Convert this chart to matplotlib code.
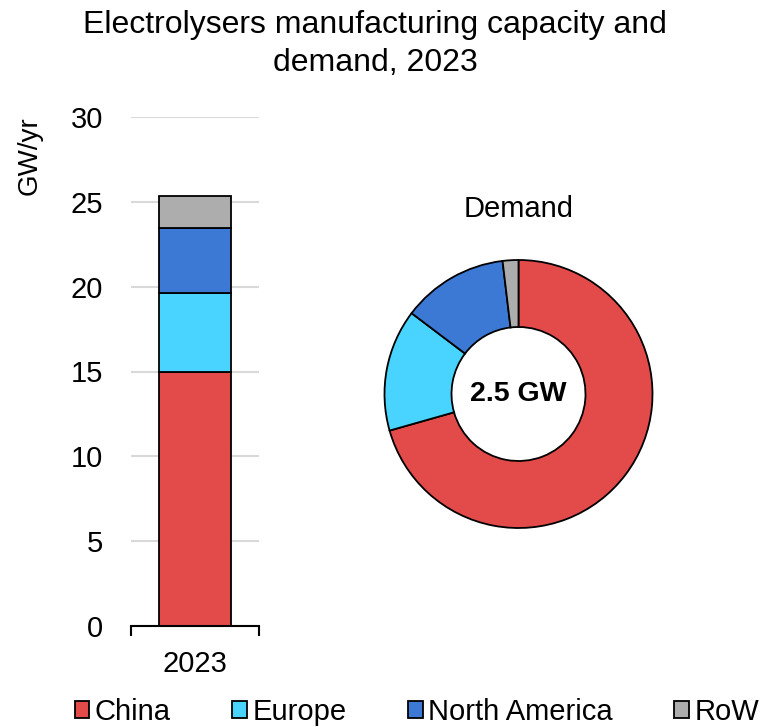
import matplotlib
matplotlib.use("Agg")
import matplotlib.pyplot as plt
from matplotlib.patches import Patch

plt.rcParams['font.family'] = ['Liberation Sans', 'DejaVu Sans']

# Manufacturing capacity, 2023 (GW/yr)
regions = ["China", "Europe", "North America", "RoW"]
capacity = [14.95, 4.7, 3.8, 1.9]
# Demand split, 2023 (share of total, %)
demand_share = [70.6, 14.7, 12.8, 1.9]
demand_total = "2.5 GW"
year_label = "2023"
y_ticks = [0, 5, 10, 15, 20, 25, 30]

colors = ["#E34B4B", "#48D4FF", "#3C79D5", "#ADADAD"]

W, H = 769, 727
fig = plt.figure(figsize=(W / 100, H / 100), dpi=100)

def px_axes(left, top, right, bottom):
    return fig.add_axes([left / W, 1 - bottom / H, (right - left) / W, (bottom - top) / H])

# Stacked capacity bar
ax = px_axes(131, 117, 259, 626)
base = 0
for val, col in zip(capacity, colors):
    ax.bar(0, val, bottom=base, width=0.5625, color=col, edgecolor="black",
           linewidth=1.3, zorder=3)
    base += val
ax.set_xlim(-0.5, 0.5)
ax.set_ylim(0, 30)
ax.set_yticks(y_ticks)
ax.set_yticklabels([str(t) for t in y_ticks], fontsize=21)
ax.tick_params(axis="y", length=0, pad=20)
ax.yaxis.grid(True, color="#D9D9D9", linewidth=1.5, zorder=0)
ax.set_axisbelow(True)
ax.set_xticks([0])
ax.set_xticklabels([year_label], fontsize=21)
ax.tick_params(axis="x", which="major", length=0, pad=17)
ax.set_xticks([-0.5, 0.5], minor=True)
ax.tick_params(axis="x", which="minor", length=7, width=1.5, direction="out", color="black")
for side in ["left", "right", "top"]:
    ax.spines[side].set_visible(False)
ax.spines["bottom"].set_linewidth(1.5)
ax.spines["bottom"].set_zorder(4)

fig.text(30 / W, 1 - 156 / H, "GW/yr", rotation=90, ha="center", va="center", fontsize=20)

# Demand donut
cx, cy, r = 518.5, 394, 134
lim = 1.1
half = r * lim
pax = px_axes(cx - half, cy - half, cx + half, cy + half)
pax.pie(demand_share, colors=colors, startangle=90, counterclock=False,
        radius=1.0, wedgeprops=dict(width=0.5, edgecolor="black", linewidth=1.3))
pax.set_xlim(-lim, lim)
pax.set_ylim(-lim, lim)
pax.set_aspect("equal")
pax.axis("off")
pax.text(0, 0, demand_total, ha="center", va="center", fontsize=20.5, fontweight="bold")
fig.text(cx / W, 1 - 209 / H, "Demand", ha="center", va="center", fontsize=21)

fig.suptitle("Electrolysers manufacturing capacity and\ndemand, 2023", x=375 / W,
             y=1 - 10 / H, va="top", fontsize=23, linespacing=1.33)

handles = [Patch(facecolor=c, edgecolor="black", linewidth=1.3) for c in colors]
fig.legend(handles, regions, loc="center", bbox_to_anchor=(417 / W, 1 - 712 / H),
           ncol=4, frameon=False, fontsize=21, handlelength=0.5, handleheight=0.5,
           handletextpad=0.2, columnspacing=2.1, borderaxespad=0, borderpad=0)

fig.savefig("out.png", dpi=100)
